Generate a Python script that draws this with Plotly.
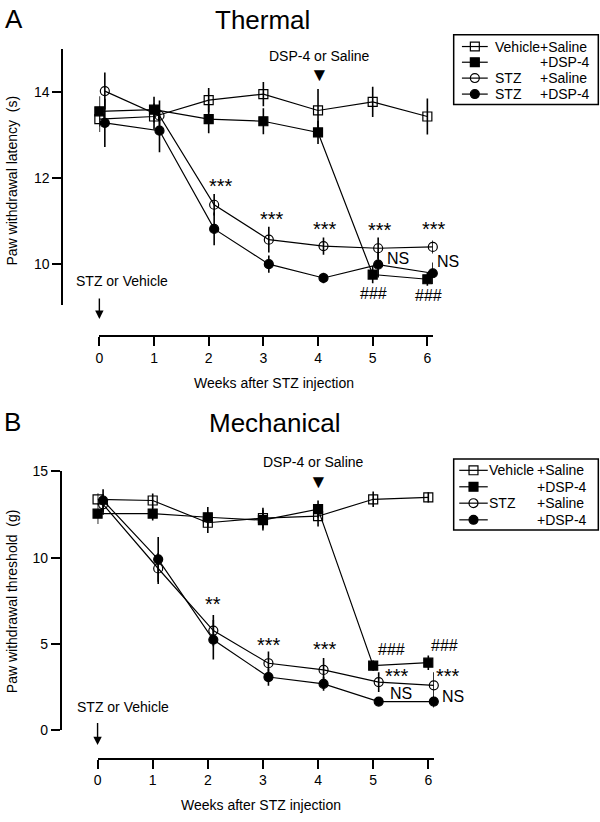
import plotly.graph_objects as go

W, H = 600, 822
FONT = "Liberation Sans, Arial, Helvetica, sans-serif"

weeks = [0, 1, 2, 3, 4, 5, 6]
week_ticks = ["0", "1", "2", "3", "4", "5", "6"]

group_names = ["Vehicle +Saline", "Vehicle +DSP-4", "STZ +Saline", "STZ +DSP-4"]

# A: Thermal, paw withdrawal latency (s)
therm_veh_sal = [13.37, 13.43, 13.81, 13.95, 13.57, 13.77, 13.43]
therm_veh_sal_err = [0.3, 0.3, 0.28, 0.28, 0.5, 0.35, 0.42]
therm_veh_dsp = [13.55, 13.59, 13.37, 13.32, 13.06, 9.76, 9.65]
therm_veh_dsp_err = [0.35, 0.3, 0.33, 0.3, 0.27, 0.2, 0.15]
therm_stz_sal = [14.02, 13.45, 11.38, 10.57, 10.42, 10.37, 10.40]
therm_stz_sal_err = [0.43, 0.35, 0.25, 0.3, 0.2, 0.25, 0.15]
therm_stz_dsp = [13.28, 13.1, 10.82, 10.0, 9.68, 9.99, 9.79]
therm_stz_dsp_err = [0.56, 0.5, 0.38, 0.2, 0.12, 0.3, 0.25]

# B: Mechanical, paw withdrawal threshold (g)
mech_veh_sal = [13.39, 13.32, 12.03, 12.3, 12.41, 13.39, 13.5]
mech_veh_sal_err = [0.35, 0.4, 0.6, 0.6, 0.6, 0.45, 0.3]
mech_veh_dsp = [12.56, 12.56, 12.35, 12.18, 12.82, 3.75, 3.92]
mech_veh_dsp_err = [0.6, 0.4, 0.6, 0.6, 0.5, 0.3, 0.42]
mech_stz_sal = [13.1, 9.38, 5.78, 3.89, 3.5, 2.8, 2.61]
mech_stz_sal_err = [0.6, 0.9, 0.9, 0.68, 0.7, 0.57, 0.76]
mech_stz_dsp = [13.32, 9.91, 5.25, 3.09, 2.69, 1.67, 1.67]
mech_stz_dsp_err = [0.65, 1.3, 1.14, 0.5, 0.4, 0.1, 0.34]

# significance marks: (text, week, value)
therm_marks = [
    ("***", 2.23, 11.81), ("***", 3.15, 11.04), ("***", 4.13, 10.82),
    ("***", 5.13, 10.79), ("***", 6.12, 10.82),
    ("NS", 5.46, 10.13), ("NS", 6.37, 10.06),
    ("###", 5.01, 9.32), ("###", 6.03, 9.27),
]
mech_marks = [
    ("**", 2.10, 7.31), ("***", 3.11, 4.97), ("***", 4.12, 4.74),
    ("###", 5.33, 4.68), ("###", 6.29, 4.93),
    ("***", 5.43, 3.13), ("***", 6.35, 3.13),
    ("NS", 5.5, 2.14), ("NS", 6.44, 1.99),
]

STYLES = [
    dict(symbol="square-open", color="black"),
    dict(symbol="square", color="black"),
    dict(symbol="circle-open", color="black"),
    dict(symbol="circle", color="black"),
]


def px(x):
    return x / W


def py(y):
    return 1 - y / H


# panel geometry (pixels) and value ranges
PANELS = {
    "A": dict(xdom=(96, 431.7), ydom=(303, 41.7), xr=(0, 6.1), yr=(9.05, 15),
              xpos=335, ypos=58.4),
    "B": dict(xdom=(94.2, 432.7), ydom=(736.7, 472.7), xr=(0, 6.1), yr=(0, 15),
              xpos=765.7, ypos=56.9),
}


def to_paper(panel, w, v):
    p = PANELS[panel]
    fx = (w - p["xr"][0]) / (p["xr"][1] - p["xr"][0])
    fy = (v - p["yr"][0]) / (p["yr"][1] - p["yr"][0])
    x = p["xdom"][0] + fx * (p["xdom"][1] - p["xdom"][0])
    y = p["ydom"][0] + fy * (p["ydom"][1] - p["ydom"][0])
    return px(x), py(y)


fig = go.Figure()


def add_panel(series, errors, xa, ya):
    for i, (vals, errs) in enumerate(zip(series, errors)):
        xs = weeks if i < 2 else [w + 0.1 for w in weeks]
        fig.add_trace(go.Scatter(
            x=xs, y=vals, name=group_names[i], mode="lines+markers",
            xaxis=xa, yaxis=ya, cliponaxis=False, showlegend=False,
            line=dict(color="black", width=1.2),
            marker=dict(size=9, line=dict(color="black", width=1.2), **STYLES[i]),
            error_y=dict(type="data", array=errs, visible=True,
                         thickness=1.6, width=0, color="black"),
        ))


add_panel([therm_veh_sal, therm_veh_dsp, therm_stz_sal, therm_stz_dsp],
          [therm_veh_sal_err, therm_veh_dsp_err, therm_stz_sal_err, therm_stz_dsp_err],
          "x", "y")
add_panel([mech_veh_sal, mech_veh_dsp, mech_stz_sal, mech_stz_dsp],
          [mech_veh_sal_err, mech_veh_dsp_err, mech_stz_sal_err, mech_stz_dsp_err],
          "x2", "y2")

axis_common = dict(showline=True, linecolor="black", linewidth=1.5,
                   ticks="outside", ticklen=9, tickwidth=1.5, tickcolor="black",
                   showgrid=False, zeroline=False, anchor="free",
                   tickfont=dict(size=14, color="black"))


def xaxis_for(panel):
    p = PANELS[panel]
    return dict(domain=[px(p["xdom"][0]), px(p["xdom"][1])], range=list(p["xr"]),
                position=py(p["xpos"]), tickvals=weeks, ticktext=week_ticks, **axis_common)


def yaxis_for(panel, ticks):
    p = PANELS[panel]
    return dict(domain=[py(p["ydom"][0]), py(p["ydom"][1])], range=list(p["yr"]),
                position=px(p["ypos"]), tickvals=ticks, **axis_common)


fig.update_layout(
    width=W, height=H,
    margin=dict(l=0, r=0, t=0, b=0),
    paper_bgcolor="white", plot_bgcolor="white",
    font=dict(family=FONT, color="black"),
    xaxis=xaxis_for("A"), yaxis=yaxis_for("A", [10, 12, 14]),
    xaxis2=xaxis_for("B"), yaxis2=yaxis_for("B", [0, 5, 10, 15]),
)

ann = []


def text_at(text, x, y, size, angle=0, xanchor="center"):
    ann.append(dict(text=text, x=x, y=y, xref="paper", yref="paper",
                    showarrow=False, textangle=angle, xanchor=xanchor, yanchor="middle",
                    font=dict(size=size, color="black")))


def pixel_text(text, x, y, size, angle=0, xanchor="center"):
    text_at(text, px(x), py(y), size, angle, xanchor)


def data_text(panel, text, w, v, size):
    x, y = to_paper(panel, w, v)
    text_at(text, x, y, size)


def arrow_down(panel, w, v_from, v_to):
    _, y0 = to_paper(panel, w, v_from)
    x1, y1 = to_paper(panel, w, v_to)
    ann.append(dict(x=x1, y=y1, ax=0, ay=-(y0 - y1) * H, xref="paper", yref="paper",
                    text="", showarrow=True,
                    arrowhead=2, arrowsize=1.2, arrowwidth=1.4, arrowcolor="black"))


# panel letters and titles
pixel_text("A", 9.6, 11, 26)
pixel_text("Thermal", 260, 12, 26)
pixel_text("B", 8.5, 422, 26)
pixel_text("Mechanical", 273, 423, 26)

# axis titles
pixel_text("Paw withdrawal latency\u00a0 (s)", 8, 176, 14, angle=-90)
pixel_text("Paw withdrawal threshold\u00a0 (g)", 8, 605, 14, angle=-90)
pixel_text("Weeks after STZ injection", 272, 382, 14)
pixel_text("Weeks after STZ injection", 259, 813, 14)

# significance marks
for t, w, v in therm_marks:
    data_text("A", t, w, v, 20 if t.startswith("*") else 16)
for t, w, v in mech_marks:
    data_text("B", t, w, v, 20 if t.startswith("*") else 16)

# treatment markers
data_text("A", "DSP-4 or Saline", 4.02, 14.84, 14)
data_text("A", "\u25bc", 4.02, 14.41, 19)
data_text("A", "STZ or Vehicle", 0.41, 9.6, 14)
arrow_down("A", 0, 9.23, 8.73)
data_text("B", "DSP-4 or Saline", 3.91, 15.53, 14)
data_text("B", "\u25bc", 4.0, 14.4, 19)
data_text("B", "STZ or Vehicle", 0.46, 1.33, 14)
arrow_down("B", 0, 0.49, -0.85)

# hand-made legends (two text columns)
shapes = []


def add_legend(box, rows, line_x, col1_x, col2_x, col1_labels, col2_labels):
    x0, x1, y0, y1 = box
    shapes.append(dict(type="rect", xref="paper", yref="paper",
                       x0=px(x0), x1=px(x1), y0=py(y1), y1=py(y0),
                       line=dict(color="black", width=1.5), fillcolor="white", layer="above"))
    mx = (line_x[0] + line_x[1]) / 2
    r = 4.5
    for i, ry in enumerate(rows):
        shapes.append(dict(type="line", xref="paper", yref="paper",
                           x0=px(line_x[0]), x1=px(line_x[1]), y0=py(ry), y1=py(ry),
                           line=dict(color="black", width=1.2), layer="above"))
        kind = "rect" if i < 2 else "circle"
        fill = "black" if i % 2 == 1 else "rgba(0,0,0,0)"
        shapes.append(dict(type=kind, xref="paper", yref="paper",
                           x0=px(mx - r), x1=px(mx + r), y0=py(ry + r), y1=py(ry - r),
                           line=dict(color="black", width=1.2), fillcolor=fill, layer="above"))
        if col1_labels[i]:
            pixel_text(col1_labels[i], col1_x, ry, 14, xanchor="left")
        pixel_text(col2_labels[i], col2_x, ry, 14, xanchor="left")


add_legend((452.7, 598.3, 27.3, 98.3), [39.3, 55.3, 71.5, 87.8],
           (461, 487), 492, 538,
           ["Vehicle", "", "STZ", "STZ"], ["+Saline", "+DSP-4", "+Saline", "+DSP-4"])
add_legend((452.7, 598.3, 460, 532.3), [471.5, 488.3, 505, 522],
           (458.3, 487), 486, 535,
           ["Vehicle", "", "STZ", ""], ["+Saline", "+DSP-4", "+Saline", "+DSP-4"])

fig.update_layout(annotations=ann, shapes=shapes)

# drop the browser's default body margin so the 600x822 figure fills the window
fig.write_html("out.html", config={"displayModeBar": False},
               post_script="document.body.style.margin='0';")
